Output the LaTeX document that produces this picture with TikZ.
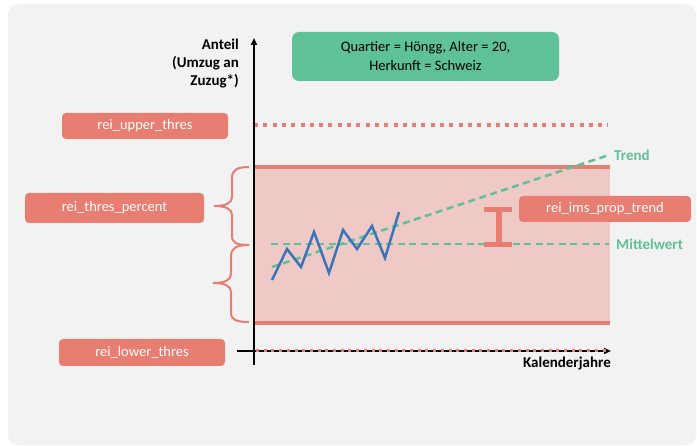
\documentclass[tikz,border=0pt]{standalone}
\usepackage{fontspec}
\setmainfont{Carlito}
\usetikzlibrary{arrows.meta}
\definecolor{bgc}{HTML}{F2F2F2}
\definecolor{redc}{HTML}{E87D72}
\definecolor{pinkc}{HTML}{EEC9C6}
\definecolor{greenc}{HTML}{5FC198}
\definecolor{bluec}{HTML}{3C74B9}
\tikzset{
  redbox/.style={fill=redc, text=white, rounded corners=4pt, inner sep=0pt, font=\fontsize{14.5}{16}\selectfont},
  greenbox/.style={fill=greenc, text=black, rounded corners=7pt, inner sep=0pt, align=center, font=\fontsize{14.5}{19}\selectfont},
  axislabel/.style={font=\bfseries\fontsize{15}{18}\selectfont, inner sep=0pt},
  greenlabel/.style={font=\bfseries\fontsize{15}{16}\selectfont, text=greenc, inner sep=0pt, anchor=west},
  greendash/.style={draw=greenc, line width=2.5pt, dash pattern=on 7pt off 4.5pt},
  bracestyle/.style={draw=redc, line width=2pt},
  axisline/.style={draw=black, line width=2pt, -{Triangle[length=7pt,width=6pt]}}
}
\begin{document}
\begin{tikzpicture}[x=1pt,y=-1pt]
\useasboundingbox (0,0) rectangle (697,446);
\fill[white] (0,0) rectangle (697,446);
\fill[bgc, rounded corners=10pt] (8,4) rectangle (696,445);

% shaded band
\coordinate (bandTL) at (254,167);
\coordinate (bandBR) at (610,324);
\fill[pinkc] (bandTL) rectangle (bandBR);
\draw[redc, line width=3.5pt] (254,167) coordinate (tl) -- (610,167) coordinate (tr);
\draw[redc, line width=3.5pt] (254,323) coordinate (bl) -- (610,323) coordinate (br);

% upper threshold dotted
\coordinate (u1) at (254,125);
\coordinate (u2) at (608,125);
\draw[redc, line width=4pt, dash pattern=on 4pt off 5.3pt] (u1) -- (u2);

% mean and trend
\coordinate (m1) at (271,244);
\coordinate (m2) at (609,244);
\draw[greendash] (m1) -- (m2);
\coordinate (t1) at (272,267);
\coordinate (t2) at (609,155);
\draw[greendash] (t1) -- (t2);

% blue series
\draw[bluec, line width=2.5pt, line join=miter] (272,280) -- (287,249) -- (301,267) -- (314,232) -- (329,273) -- (343,230) -- (357,249) -- (372,226) -- (385,258) -- (399,212);

% I-bar
\fill[redc] (484,207) rectangle (512,212.5);
\fill[redc] (484,242) rectangle (512,247.5);
\fill[redc] (495.5,207) rectangle (501.5,247);

% axes
\coordinate (yb) at (254,365);
\coordinate (yt) at (254,38);
\draw[axisline] (yb) -- (yt);
\coordinate (xl) at (237,351);
\coordinate (xr) at (611,351);
\draw[axisline] (xl) -- (xr);
\coordinate (d1) at (256,351);
\coordinate (d2) at (610,351);
\draw[redc, line width=3pt, dash pattern=on 3pt off 4.7pt] (d1) -- (d2);

% braces
\draw[bracestyle] (249,167) .. controls (237,167) and (232,170) .. (232,178) -- (232,197)
  .. controls (232,203) and (226,206) .. (214,206) .. controls (226,206) and (232,209) .. (232,215)
  -- (232,236) .. controls (232,243) and (237,245) .. (249,245);
\draw[bracestyle] (249,245) .. controls (237,245) and (231,248) .. (231,256) -- (231,274)
  .. controls (231,280) and (225,283) .. (213,283) .. controls (225,283) and (231,286) .. (231,292)
  -- (231,313) .. controls (231,320) and (237,322) .. (249,322);

% boxes
\node[greenbox, minimum width=267pt, minimum height=49pt] (cond) at (425.5,56.5) {Quartier = Höngg, Alter = 20,\\Herkunft = Schweiz};
\node[redbox, minimum width=166pt, minimum height=26pt] (upper) at (145,126) {rei\_upper\_thres};
\node[redbox, minimum width=179pt, minimum height=30pt] (percent) at (114.5,208) {rei\_thres\_percent};
\node[redbox, minimum width=166pt, minimum height=27pt] (lower) at (142,352.5) {rei\_lower\_thres};
\node[redbox, minimum width=172pt, minimum height=26pt] (ims) at (605,209) {rei\_ims\_prop\_trend};

% labels
\node[axislabel, align=right, anchor=east] (ylab) at (239,64) {Anteil\\(Umzug an\\Zuzug*)};
\node[axislabel, anchor=east] (xlab) at (611,364) {Kalenderjahre};
\node[greenlabel] (trend) at (614,155) {Trend};
\node[greenlabel] (mittel) at (616,244) {Mittelwert};
\end{tikzpicture}
\end{document}
